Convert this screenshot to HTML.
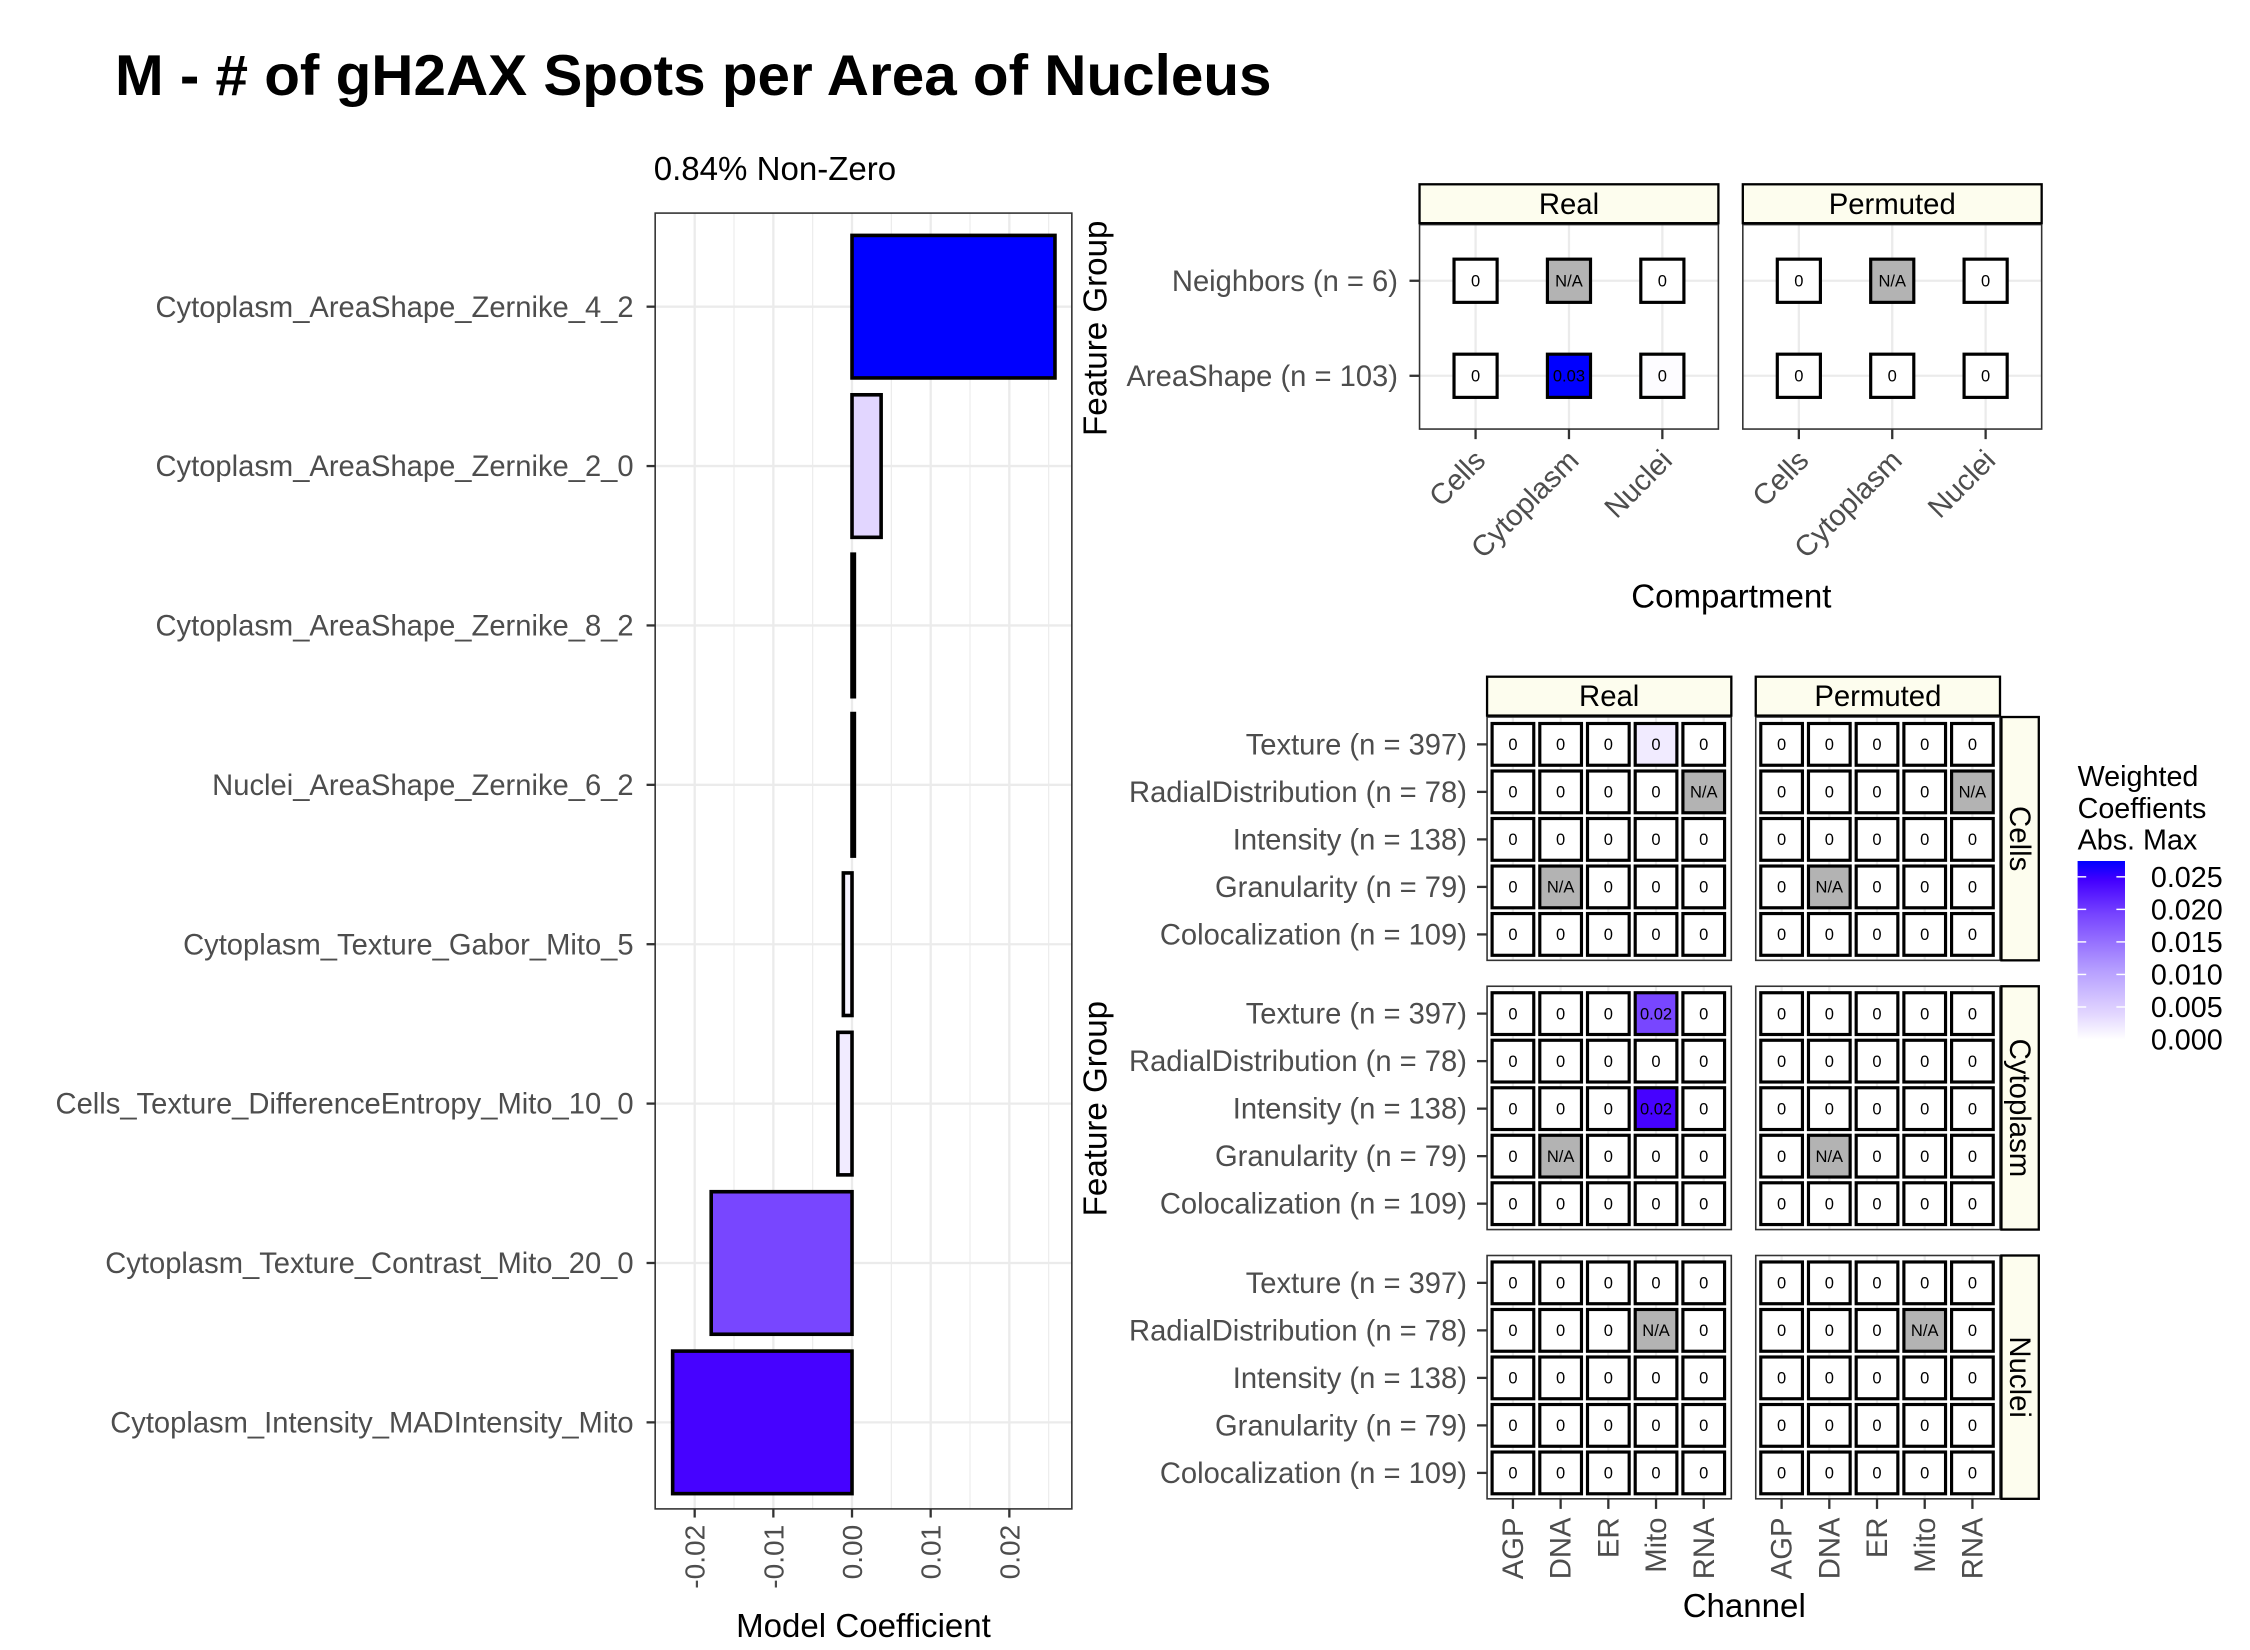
<!DOCTYPE html>
<html><head><meta charset="utf-8"><style>
html,body{margin:0;padding:0;background:#fff}
svg{display:block;font-family:"Liberation Sans",Arial,sans-serif}
</style></head><body>
<svg id="fig" xmlns="http://www.w3.org/2000/svg" width="2250" height="1650" viewBox="0 0 1566 1146" preserveAspectRatio="none">
<rect x="0" y="0" width="1566" height="1146" fill="#fff"/>
<text x="80" y="66" font-size="40" font-weight="bold" textLength="805" lengthAdjust="spacingAndGlyphs">M - # of gH2AX Spots per Area of Nucleus</text>
<text x="455" y="125" font-size="23">0.84% Non-Zero</text>
<defs>
<linearGradient id="lg" x1="0" y1="1" x2="0" y2="0">
<stop offset="0" stop-color="#ffffff"/><stop offset="0.14" stop-color="#e3d7ff"/><stop offset="0.4" stop-color="#b39bff"/><stop offset="0.7" stop-color="#7744ff"/><stop offset="0.89" stop-color="#4400ff"/><stop offset="1" stop-color="#0000ff"/>
</linearGradient>
</defs>
<g id="bars"></g>
<g id="hm1"></g>
<g id="hm2"></g>
<g id="legend"></g>
</svg>
<script>
// ---- bar chart data ----
const barCategories = ["Cytoplasm_AreaShape_Zernike_4_2","Cytoplasm_AreaShape_Zernike_2_0","Cytoplasm_AreaShape_Zernike_8_2","Nuclei_AreaShape_Zernike_6_2","Cytoplasm_Texture_Gabor_Mito_5","Cells_Texture_DifferenceEntropy_Mito_10_0","Cytoplasm_Texture_Contrast_Mito_20_0","Cytoplasm_Intensity_MADIntensity_Mito"];
const barValues = [0.0258, 0.0037, 0.0003, 0.0003, -0.0011, -0.0018, -0.0179, -0.0228];
const barTicks = [-0.02, -0.01, 0, 0.01, 0.02];
const barTickLabels = ["-0.02","-0.01","0.00","0.01","0.02"];
// ---- heatmap data ----
const compartments = ["Cells","Cytoplasm","Nuclei"];
const topRows = ["Neighbors (n = 6)","AreaShape (n = 103)"];
const topReal = [[0,null,0],[0,0.0258,0.0003]];
const topPerm = [[0,null,0],[0,0,0]];
const channels = ["AGP","DNA","ER","Mito","RNA"];
const groups = ["Texture (n = 397)","RadialDistribution (n = 78)","Intensity (n = 138)","Granularity (n = 79)","Colocalization (n = 109)"];
const facetRows = ["Cells","Cytoplasm","Nuclei"];
const realCells = [[0,0,0,0.0018,0],[0,0,0,0,null],[0,0,0,0,0],[0,null,0,0,0],[0,0,0,0,0]];
const realCyto = [[0,0,0,0.0179,0],[0,0,0,0,0],[0,0,0,0.0228,0],[0,null,0,0,0],[0,0,0,0,0]];
const realNuc = [[0,0,0,0,0],[0,0,0,null,0],[0,0,0,0,0],[0,0,0,0,0],[0,0,0,0,0]];
const permCells = [[0,0,0,0,0],[0,0,0,0,null],[0,0,0,0,0],[0,null,0,0,0],[0,0,0,0,0]];
const permCyto = [[0,0,0,0,0],[0,0,0,0,0],[0,0,0,0,0],[0,null,0,0,0],[0,0,0,0,0]];
const permNuc = [[0,0,0,0,0],[0,0,0,null,0],[0,0,0,0,0],[0,0,0,0,0],[0,0,0,0,0]];
const legendTicks = [0, 0.005, 0.01, 0.015, 0.02, 0.025];
const legendTickLabels = ["0.000","0.005","0.010","0.015","0.020","0.025"];

const NS="http://www.w3.org/2000/svg";
const AX=20.3, TT=23;
function mk(tag, attrs, parent, txt){const e=document.createElementNS(NS,tag);for(const k in attrs)e.setAttribute(k,attrs[k]);if(txt!==undefined)e.textContent=txt;parent.appendChild(e);return e;}
const stops=[[0,[255,255,255]],[0.14,[227,215,255]],[0.4,[179,155,255]],[0.7,[119,68,255]],[0.89,[68,0,255]],[1,[0,0,255]]];
const vmax=0.0258;
function col(v){let t=Math.min(1,Math.abs(v)/vmax);for(let i=1;i<stops.length;i++){if(t<=stops[i][0]){const a=stops[i-1],b=stops[i];const f=(t-a[0])/(b[0]-a[0]);const c=a[1].map((x,j)=>Math.round(x+(b[1][j]-x)*f));return `rgb(${c[0]},${c[1]},${c[2]})`;}}return "rgb(0,0,255)";}
function fmt(v){const r=Math.round(v*100)/100;return String(r);}

// ---- bar chart ----
const B=document.getElementById('bars');
const px0=456,px1=746,py0=148,py1=1048;
const xs=v=>593+v*5475;
const ys=i=>213+i*110.7;
mk('rect',{x:px0,y:py0,width:px1-px0,height:py1-py0,fill:'#fff'},B);
for(let v=-0.025;v<=0.0281;v+=0.01){const x=xs(v);if(x>=px0&&x<=px1){const l=mk('line',{x1:x,x2:x,y1:py0,y2:py1,stroke:'#ebebeb','stroke-width':0.8},B);}}
barTicks.forEach((t,i)=>{const x=xs(t);
 const g=mk('line',{x1:x,x2:x,y1:py0,y2:py1,stroke:'#ebebeb','stroke-width':1.6},B);
 const tk=mk('line',{x1:x,x2:x,y1:py1,y2:py1+6,stroke:'#333','stroke-width':1.6},B);
 const tl=mk('text',{x:0,y:0,transform:`translate(${x+7},${py1+11}) rotate(-90)`,'text-anchor':'end','font-size':19.5,fill:'#4d4d4d'},B,barTickLabels[i]);
});
barCategories.forEach((c,i)=>{const y=ys(i);
 const g=mk('line',{x1:px0,x2:px1,y1:y,y2:y,stroke:'#ebebeb','stroke-width':1.6},B);
});
barCategories.forEach((c,i)=>{const y=ys(i);const v=barValues[i];
 const x0=Math.min(xs(0),xs(v)),w=Math.abs(xs(v)-xs(0));
 const r=mk('rect',{x:x0,y:y-49.5,width:w,height:99,fill:col(v),stroke:'#000','stroke-width':2.5},B);
 
 const tk=mk('line',{x1:px0-6,x2:px0,y1:y,y2:y,stroke:'#333','stroke-width':1.6},B);
 const t=mk('text',{x:px0-15,y:y+7,'text-anchor':'end','font-size':AX,fill:'#4d4d4d'},B,c);
});
const pb=mk('rect',{x:px0,y:py0,width:px1-px0,height:py1-py0,fill:'none',stroke:'#333','stroke-width':1.1},B);
const xt=mk('text',{x:601,y:1137,'text-anchor':'middle','font-size':TT},B,'Model Coefficient');

function strip(parent,x,y,w,h,label,vertical){
 const r=mk('rect',{x:x,y:y,width:w,height:h,fill:'#fdfdee',stroke:'#000','stroke-width':1.6},parent);
 
 let t;
 if(vertical){t=mk('text',{x:0,y:0,transform:`translate(${x+w/2-7},${y+h/2}) rotate(90)`,'text-anchor':'middle','font-size':20.4},parent,label);}
 else{t=mk('text',{x:x+w/2,y:y+h/2+7,'text-anchor':'middle','font-size':20.4},parent,label);}
 
}
function tile(parent,cx,cy,v,w,h){
 const na=(v===null);
 const r=mk('rect',{x:cx-w/2,y:cy-h/2,width:w,height:h,fill:na?'#b3b3b3':col(v),stroke:'#000','stroke-width':2.2},parent);
 
 const t=mk('text',{x:cx,y:cy+4,'text-anchor':'middle','font-size':11.5,fill:'#000'},parent,na?'N/A':fmt(v));
 
}

// ---- top heatmap ----
const H1=document.getElementById('hm1');
const topPanels=[{x:988,data:topReal,label:'Real'},{x:1213,data:topPerm,label:'Permuted'}];
const tpW=208,tpY0=156,tpY1=298;
const topRowY=i=>195+i*66;
topPanels.forEach((p,pi)=>{
 mk('rect',{x:p.x,y:tpY0,width:tpW,height:tpY1-tpY0,fill:'#fff'},H1);
 const cx=j=>p.x+39+j*65;
 compartments.forEach((c,j)=>{mk('line',{x1:cx(j),x2:cx(j),y1:tpY0,y2:tpY1,stroke:'#ebebeb','stroke-width':1.6},H1);});
 topRows.forEach((r,i)=>{mk('line',{x1:p.x,x2:p.x+tpW,y1:topRowY(i),y2:topRowY(i),stroke:'#ebebeb','stroke-width':1.6},H1);});
 p.data.forEach((row,i)=>row.forEach((v,j)=>tile(H1,cx(j),topRowY(i),v,30,30)));
 const b=mk('rect',{x:p.x,y:tpY0,width:tpW,height:tpY1-tpY0,fill:'none',stroke:'#333','stroke-width':1.1},H1);
 strip(H1,p.x,128,tpW,27,p.label,false);
 compartments.forEach((c,j)=>{const x=cx(j);
  mk('line',{x1:x,x2:x,y1:tpY1,y2:tpY1+7,stroke:'#333','stroke-width':1.6},H1);
  const t=mk('text',{x:0,y:0,transform:`translate(${x+8},${tpY1+23}) rotate(-45)`,'text-anchor':'end','font-size':AX,fill:'#4d4d4d'},H1,c);
  
 });
});
topRows.forEach((r,i)=>{const y=topRowY(i);
 mk('line',{x1:981,x2:988,y1:y,y2:y,stroke:'#333','stroke-width':1.6},H1);
 const t=mk('text',{x:973,y:y+7,'text-anchor':'end','font-size':AX,fill:'#4d4d4d'},H1,r);
});
const ft1=mk('text',{x:0,y:0,transform:'translate(770,228) rotate(-90)','text-anchor':'middle','font-size':TT},H1,'Feature Group');
const ct=mk('text',{x:1205,y:422,'text-anchor':'middle','font-size':TT},H1,'Compartment');

// ---- bottom heatmap ----
const H2=document.getElementById('hm2');
const bpX=[1035,1222],bpW=170,bpH=169;
const bpY=[498,685,872];
const dataSets=[[realCells,permCells],[realCyto,permCyto],[realNuc,permNuc]];
facetRows.forEach((fr,fi)=>{
 const y0=bpY[fi];
 const ry=i=>y0+19+i*33;
 [0,1].forEach(pi=>{const x0=bpX[pi];
  mk('rect',{x:x0,y:y0,width:bpW,height:bpH,fill:'#fff'},H2);
  const cxf=j=>x0+18+j*33.2;
  channels.forEach((c,j)=>mk('line',{x1:cxf(j),x2:cxf(j),y1:y0,y2:y0+bpH,stroke:'#ebebeb','stroke-width':1.6},H2));
  dataSets[fi][pi].forEach((row,i)=>row.forEach((v,j)=>tile(H2,cxf(j),ry(i),v,29,29)));
  const b=mk('rect',{x:x0,y:y0,width:bpW,height:bpH,fill:'none',stroke:'#333','stroke-width':1.1},H2);
  if(fi===2){channels.forEach((c,j)=>{const x=cxf(j);
   mk('line',{x1:x,x2:x,y1:y0+bpH,y2:y0+bpH+7,stroke:'#333','stroke-width':1.6},H2);
   const t=mk('text',{x:0,y:0,transform:`translate(${x+7},${y0+bpH+13}) rotate(-90)`,'text-anchor':'end','font-size':AX,fill:'#4d4d4d'},H2,c);
   
  });}
 });
 strip(H2,1393,y0,26,bpH,fr,true);
 groups.forEach((g,i)=>{const y=ry(i);
  mk('line',{x1:1028,x2:1035,y1:y,y2:y,stroke:'#333','stroke-width':1.6},H2);
  const t=mk('text',{x:1021,y:y+7,'text-anchor':'end','font-size':AX,fill:'#4d4d4d'},H2,g);
 });
});
strip(H2,1035,470,170,27,'Real',false);
strip(H2,1222,470,170,27,'Permuted',false);
const ft2=mk('text',{x:0,y:0,transform:'translate(770,770) rotate(-90)','text-anchor':'middle','font-size':TT},H2,'Feature Group');
const cht=mk('text',{x:1214,y:1123,'text-anchor':'middle','font-size':TT},H2,'Channel');

// ---- legend ----
const L=document.getElementById('legend');
['Weighted','Coeffients','Abs. Max'].forEach((s,i)=>{const t=mk('text',{x:1446,y:546+i*22,'font-size':20},L,s);});
const lb=mk('rect',{x:1446,y:598,width:33,height:124,fill:'url(#lg)'},L);
const ly=v=>722-v*4520;
legendTicks.forEach((v,i)=>{const y=ly(v);
 mk('line',{x1:1446,x2:1452,y1:y,y2:y,stroke:'#fff','stroke-width':1},L);
 mk('line',{x1:1473,x2:1479,y1:y,y2:y,stroke:'#fff','stroke-width':1},L);
 const t=mk('text',{x:1497,y:y+7,'font-size':20,fill:'#000'},L,legendTickLabels[i]);
});
</script>
</body></html>
